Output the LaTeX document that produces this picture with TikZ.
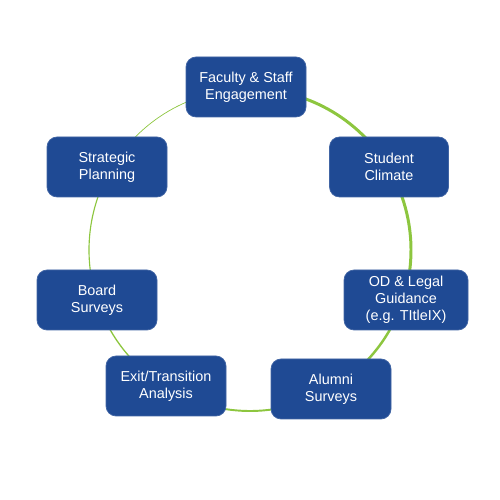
\documentclass[tikz,border=0pt]{standalone}
\usepackage{fontspec}
\setmainfont{Liberation Sans}
\usetikzlibrary{backgrounds}
\definecolor{boxblue}{HTML}{1F4A94}
\definecolor{ringgreen}{HTML}{8DC63F}

\begin{document}
\begin{tikzpicture}[
  font=\fontsize{8.2}{9.6}\selectfont,
  box/.style={rounded corners=0.2cm, draw=boxblue!85!white, fill=boxblue, text=white, minimum width=2.4cm, minimum height=1.2cm, align=center, inner sep=1pt},
  ring/.style={draw=ringgreen}
]
\useasboundingbox (0,0) rectangle (10,10);
\coordinate (c) at (5,5);
\node[box] (fac) at (4.92,8.26) {Faculty \& Staff\\Engagement};
\node[box, minimum width=2.38cm] (stu) at (7.78,6.66) {Student\\Climate};
\node[box, minimum width=2.48cm] (od) at (8.12,4.00) {OD \& Legal\\Guidance\\(e.g. TItleIX)};
\node[box] (alu) at (6.62,2.22) {Alumni\\Surveys};
\node[box] (exit) at (3.32,2.28) {Exit/Transition\\Analysis};
\node[box] (brd) at (1.94,4.00) {Board\\Surveys};
\node[box] (strat) at (2.14,6.66) {Strategic\\Planning};
% ring behind the boxes, thinning clockwise
\begin{scope}[on background layer]
\foreach \a/\b/\w in {91/31/1.7, 31/-18/1.7, -18/-60/1.4, -60/-122/1.1, -122/-162/0.75, -162/-210/0.65, -210/-269/0.4}
  \draw[ring, line width=\w pt] (c) ++(\a:3.22) arc[start angle=\a, end angle=\b, radius=3.22];
\end{scope}
\end{tikzpicture}
\end{document}
